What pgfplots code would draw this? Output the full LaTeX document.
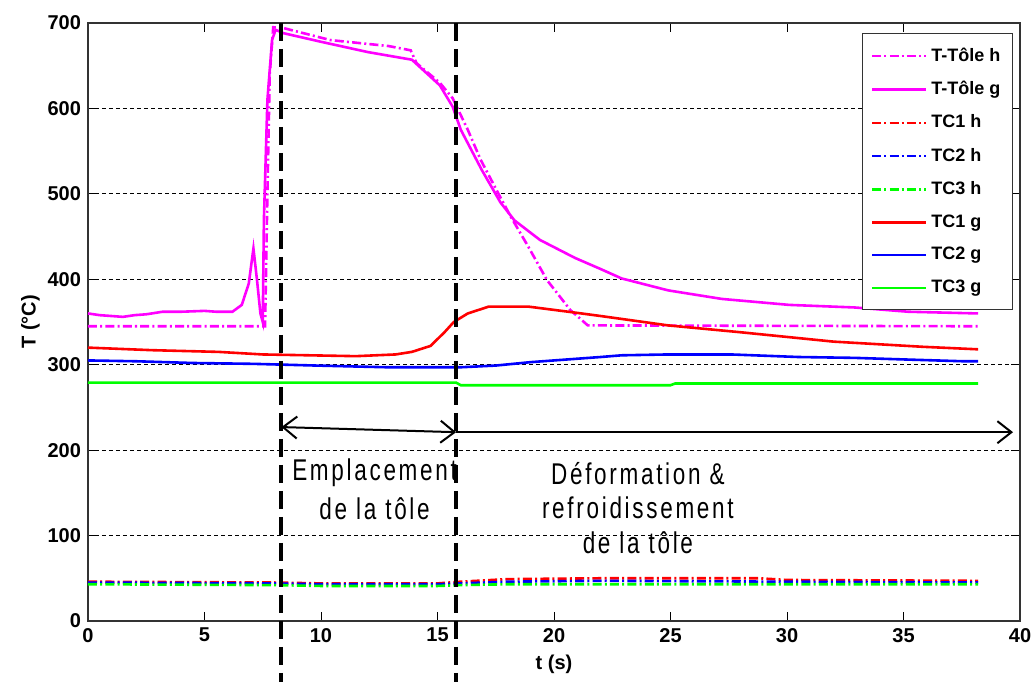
\documentclass[border=0pt]{standalone}
\usepackage{fontspec}
\setmainfont{Liberation Sans}
\newfontfamily\narrowfont[FakeStretch=0.75,LetterSpace=9]{Liberation Sans}
\usepackage{pgfplots}
\pgfplotsset{compat=1.18}
\usetikzlibrary{arrows.meta,calc}
\definecolor{mag}{RGB}{255,0,255}
\definecolor{rr}{RGB}{255,0,0}
\definecolor{bb}{RGB}{0,0,255}
\definecolor{gg}{RGB}{0,255,0}
\tikzset{dd/.style={dash pattern=on 4.5pt off 1.6pt on 1pt off 1.6pt}}
\begin{document}
\begin{tikzpicture}
\begin{axis}[
 scale only axis, width=466pt, height=299pt,
 xmin=0,xmax=40,ymin=0,ymax=700,
 xtick={0,5,...,40}, ytick={0,100,...,700},
 tick align=inside, tick pos=both,
 ymajorgrids,
 major grid style={black, dash pattern=on 2pt off 1.5pt, line width=0.4pt},
 tick style={black, line width=0.5pt}, major tick length=4.5pt,
 axis line style={line width=0.6pt, black!80},
 ticklabel style={font=\fontsize{10}{12}\selectfont\bfseries},
 /pgf/number format/assume math mode=true,
 xlabel={t (s)}, ylabel={T (°C)},
 label style={font=\fontsize{10}{12}\selectfont\bfseries},
 xlabel style={yshift=0.5pt},
 ylabel style={yshift=-3pt},
 clip=false,
 legend style={at={(1,1)}, anchor=north east, xshift=-3.5pt, yshift=-5pt, draw=black!80, line width=0.6pt, fill=white, font=\fontsize{9}{10}\selectfont\bfseries, row sep=4.6pt, inner xsep=4pt, inner ysep=5pt, cells={anchor=west}},
 legend image code/.code={\draw[#1] (0pt,0pt) -- (27pt,0pt);},
 every axis plot/.append style={line width=1.3pt},
]
% T-Tole h
\addplot[mag, dd] coordinates {(0,345) (7.6,345) (7.7,500) (7.8,640) (7.95,695) (8.4,694) (10.4,680) (12.9,673) (13.85,668) (14.1,653) (15.1,630) (15.65,612) (16.3,575) (16.85,540) (17.6,501) (18.15,473) (18.9,438) (19.7,399) (20.7,364) (21.45,346) (38.2,345)};
\addlegendentry{T-Tôle h}
% T-Tole g
\addplot[mag] coordinates {(0,360) (0.5,358) (1,357) (1.5,356) (2,358) (2.5,359) (3.2,362) (4,362) (5,363) (5.5,362) (6.2,362) (6.6,370) (6.9,395) (7.1,436) (7.25,400) (7.4,360) (7.5,350) (7.55,470) (7.7,610) (7.9,680) (8.05,692) (8.4,688) (10,678) (12,666) (13.9,657) (14.3,647) (15.1,627) (15.65,602) (16.0,575) (16.9,528) (17.7,490) (18.3,469) (19.4,446) (20.9,425) (22.0,412) (22.9,401) (24.9,387) (27.2,377) (30.1,370) (32.9,367) (35.2,362) (38.2,360)};
\addlegendentry{T-Tôle g}
% TC1 h
\addplot[rr, dd] coordinates {(0,46) (8,45) (10,44) (15,44) (16,46) (18,49) (22,50) (28.8,50) (30,48) (38.2,47)};
\addlegendentry{TC1 h}
\addplot[bb, dd] coordinates {(0,45) (8,44) (10,43) (15,43) (16,44) (18,46) (22,47) (30,46) (38.2,45)};
\addlegendentry{TC2 h}
\addplot[gg, dd] coordinates {(0,43) (8,42) (10,41) (15,41) (16,42) (18,43) (22,43) (30,43) (38.2,43)};
\addlegendentry{TC3 h}
% TC1 g
\addplot[rr] coordinates {(0,320) (2.75,317) (5.6,315) (7.5,312) (11.5,310) (13.2,312) (13.9,315) (14.7,322) (15.3,338) (15.7,350) (16.3,360) (17.2,368) (18.9,368) (20.9,361) (22.0,357) (24.9,346) (28.0,338) (32.0,327) (35.8,321) (38.2,318)};
\addlegendentry{TC1 g}
\addplot[bb] coordinates {(0,305) (2.1,304) (4.5,302) (7.1,301) (9.8,299) (12.85,297) (16,297) (17.5,299) (19,303) (20.5,306) (22,309) (22.9,311) (24.9,312) (27.6,312) (30.5,309) (32.9,308) (35.2,306) (37.6,304) (38.2,304)};
\addlegendentry{TC2 g}
\addplot[gg] coordinates {(0,279) (15.8,279) (16,276) (25,276) (25.2,278) (38.2,278)};
\addlegendentry{TC3 g}
% annotations
\draw[black, line width=2pt, dash pattern=on 9pt off 4pt] (axis cs:8.3,700) -- (axis cs:8.3,-71);
\draw[black, line width=2pt, dash pattern=on 9pt off 4pt] (axis cs:15.8,700) -- (axis cs:15.8,-71);
\draw[line width=1pt, {Straight Barb[length=7pt,width=11pt]}-{Straight Barb[length=7pt,width=11pt]}] (axis cs:8.3,227) -- (axis cs:15.8,221);
\draw[line width=1pt, -{Straight Barb[length=7pt,width=11pt]}] (axis cs:15.8,221) -- (axis cs:39.7,221);
\node[font=\narrowfont\fontsize{15}{15}\selectfont] at (axis cs:12.3,173) {Emplacement};
\node[font=\narrowfont\fontsize{15}{15}\selectfont] at (axis cs:12.3,131) {de la tôle};
\node[font=\narrowfont\fontsize{15}{15}\selectfont] at (axis cs:23.6,173) {Déformation \&};
\node[font=\narrowfont\fontsize{15}{15}\selectfont] at (axis cs:23.6,133) {refroidissement};
\node[font=\narrowfont\fontsize{15}{15}\selectfont] at (axis cs:23.6,92) {de la tôle};
\end{axis}
\pgfresetboundingbox
\path[use as bounding box] ($(current axis.south west)+(-44pt,-30.5pt)$) rectangle ($(current axis.north east)+(6pt,11.5pt)$);
\end{tikzpicture}
\end{document}
